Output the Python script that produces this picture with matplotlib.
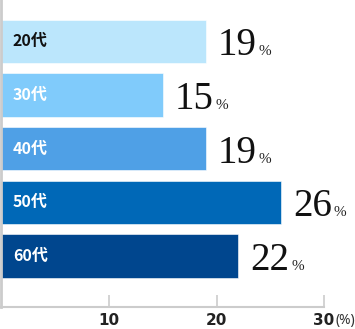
import matplotlib.pyplot as plt

plt.rcParams['font.family'] = ['Noto Sans CJK JP', 'DejaVu Sans']

# データ
ages = ['20代', '30代', '40代', '50代', '60代']
values = [19, 15, 19, 26, 22]
colors = ['#bbe6fc', '#80cbfb', '#4fa0e6', '#0068b7', '#00468e']
label_colors = ['#111111', 'white', 'white', 'white', 'white']
xticks = [10, 20, 30]

W, H = 355, 329
fig = plt.figure(figsize=(W / 100, H / 100), dpi=100)
# 軸の位置 (ピクセルから)
x0, x1 = 1.5, 1.5 + 30 * 10.75
y_top, y_bot = 0, 307
ax = fig.add_axes([x0 / W, 1 - y_bot / H, (x1 - x0) / W, (y_bot - y_top) / H])

pos = list(range(len(ages)))
ax.barh(pos, values, height=0.81, color=colors, edgecolor='white', linewidth=0.4)
ax.set_xlim(0, 30)
ax.set_ylim(4.953, -0.774)

# 軸の見た目
for s in ['top', 'right']:
    ax.spines[s].set_visible(False)
ax.spines['left'].set_color('#cccccc')
ax.spines['left'].set_linewidth(2)
ax.spines['bottom'].set_color('#cccccc')
ax.spines['bottom'].set_linewidth(1.5)
ax.set_yticks([])
ax.set_xticks(xticks)
ax.set_xticklabels([str(t) for t in xticks], fontsize=11, fontweight='bold',
                   color='#222222', family='DejaVu Sans')
ax.tick_params(axis='x', direction='in', length=8.5, width=1.2, color='#cccccc', pad=4)

# バーの中のラベル
for i, a in enumerate(ages):
    ax.text(1.05, i, a, va='center', ha='left', fontsize=11.5, fontweight='bold',
            color=label_colors[i])

# 数値ラベル
num_texts = []
for i, v in enumerate(values):
    t = ax.annotate(str(v), xy=(v, i), xytext=(12, -14), textcoords='offset pixels',
                    va='baseline', ha='left', fontsize=28, family='Liberation Serif',
                    color='#111111')
    num_texts.append(t)

fig.canvas.draw()
r = fig.canvas.get_renderer()
for i, (v, t) in enumerate(zip(values, num_texts)):
    bb = t.get_window_extent(r)
    base_y = ax.transData.transform((v, i))[1] - 14
    fig.text((bb.x1 + 2) / W, base_y / H, '%', va='baseline', ha='left',
             fontsize=11, family='Liberation Serif', color='#222222')

# (%) の単位
lab30 = ax.get_xticklabels()[-1]
bb = lab30.get_window_extent(r)
fig.text((bb.x1 + 1) / W, (bb.y0 + bb.y1) / 2 / H, '(%)', va='center', ha='left',
         fontsize=10, color='#333333', family='Noto Sans')

fig.savefig('out.png', dpi=100)
